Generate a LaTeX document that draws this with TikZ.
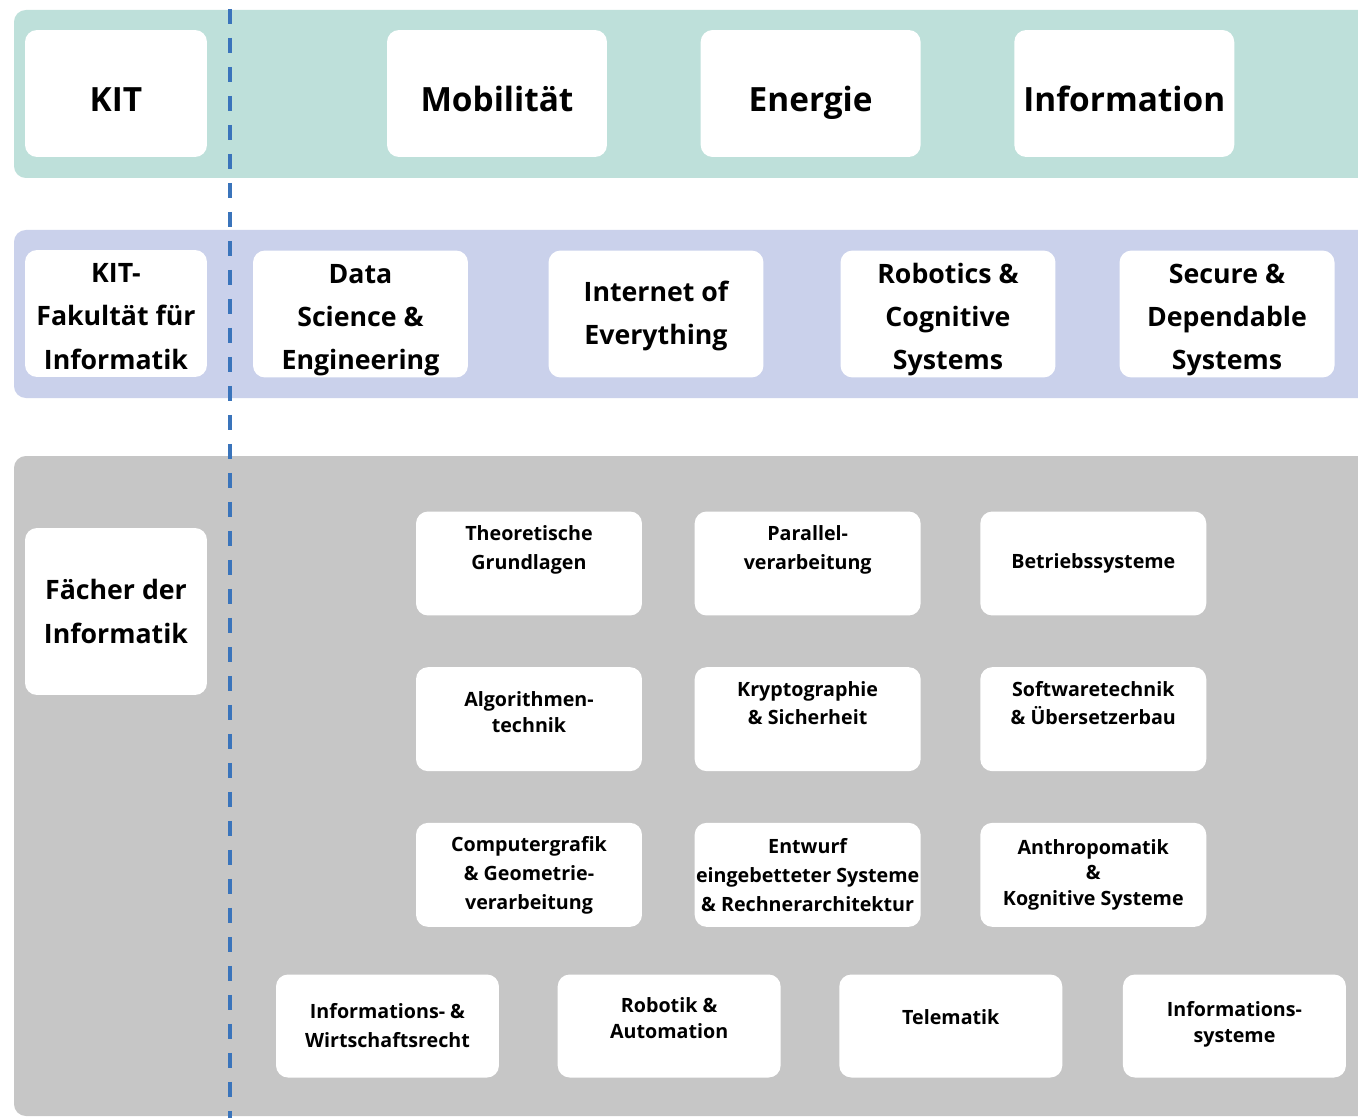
\documentclass[tikz,border=0pt]{standalone}
\usepackage{fontspec}
\setmainfont{Open Sans}
\usetikzlibrary{positioning}
\definecolor{kitgruen}{HTML}{BEE0DA}
\definecolor{kitblau}{HTML}{CAD1EB}
\definecolor{kitgrau}{HTML}{C6C6C6}
\definecolor{strichblau}{HTML}{3A74BB}
% text block, raised inside its box
\newcommand{\hoch}[3][1]{\raisebox{#2}[0pt][0pt]{\renewcommand{\arraystretch}{#1}\begin{tabular}{@{}c@{}}#3\end{tabular}}}
\tikzset{
	%Define style for white boxes
	kasten/.style={
		rectangle,
		rounded corners=6.8pt,
		fill=white,
		inner sep=0pt,
		align=center},
	gross/.style={
		kasten,
		minimum width=4.4cm,
		minimum height=2.54cm,
		text height=21pt, text depth=0pt,
		font=\fontsize{19pt}{23pt}\selectfont\bfseries},
	mittel/.style={
		kasten,
		minimum width=4.3cm,
		minimum height=2.54cm,
		font=\fontsize{15.2pt}{24.5pt}\selectfont\bfseries},
	klein/.style={
		kasten,
		minimum width=4.52cm,
		minimum height=2.08cm,
		font=\fontsize{11.2pt}{16.5pt}\selectfont\bfseries},
	% Define style for the coloured bands
	band/.style={rounded corners=6.8pt, draw=none}
}
\begin{document}
\begin{tikzpicture}[x=0.02cm, y=-0.02cm]
	\clip (0,0) rectangle (1358,1118);
	% bands
	\fill[band, kitgruen] (14,10) rectangle (1390,178);
	\fill[band, kitblau] (14,230) rectangle (1390,398);
	\fill[band, kitgrau] (14,456) rectangle (1390,1116);
	% dashed separator
	\coordinate (oben) at (230,9);
	\coordinate (unten) at (230,1118);
	\draw[strichblau, line width=2.3pt, dash pattern=on 0.3cm off 0.28cm] (oben) -- (unten);
	% top row
	\node[gross, minimum width=3.64cm] (kit) at (116,93.5) {KIT};
	\node[gross] (mobil) at (497,93.5) {Mobilität};
	\node[gross, right=1.86cm of mobil] (energie) {Energie};
	\node[gross, right=1.86cm of energie] (info) {Information};
	% middle row
	\node[mittel, minimum width=3.64cm] (fakultaet) at (116,313.5) {\hoch{-5.8pt}{KIT-\\Fakultät für\\Informatik}};
	\node[mittel] (datasci) at (360.5,314) {\hoch{-5.8pt}{Data\\Science \&\\Engineering}};
	\node[mittel] (iot) at (656,314) {\hoch{-3.8pt}{Internet of\\Everything}};
	\node[mittel] (robcog) at (948,314) {\hoch{-5.8pt}{Robotics \&\\Cognitive\\Systems}};
	\node[mittel] (secure) at (1227,314) {\hoch{-5.8pt}{Secure \&\\Dependable\\Systems}};
	% subjects
	\node[mittel, minimum width=3.64cm, minimum height=3.34cm] (faecher) at (116,611.5) {Fächer der\\Informatik};
	\node[klein] (theo) at (529,563.5) {\hoch{5.2pt}{Theoretische\\Grundlagen}};
	\node[klein, right=1.04cm of theo] (parallel) {\hoch{5.2pt}{Parallel-\\verarbeitung}};
	\node[klein, right=1.18cm of parallel] (betrieb) {Betriebssysteme};
	\node[klein, below=1.02cm of theo] (algo) {\hoch[0.9]{0pt}{Algorithmen-\\technik}};
	\node[klein, below=1.02cm of parallel] (krypto) {\hoch[0.95]{5.2pt}{Kryptographie\\\& Sicherheit}};
	\node[klein, below=1.02cm of betrieb] (softw) {\hoch[0.95]{5.2pt}{Softwaretechnik\\\& Übersetzerbau}};
	\node[klein, below=1.02cm of algo] (grafik) {Computergrafik\\\& Geometrie-\\verarbeitung};
	\node[klein, below=1.02cm of krypto] (entwurf) {Entwurf\\eingebetteter Systeme\\\& Rechnerarchitektur};
	\node[klein, below=1.02cm of softw] (anthropo) {Anthropomatik\\[-2pt]\&\\[-2pt]Kognitive Systeme};
	% bottom row
	\node[klein, minimum width=4.46cm, minimum height=2.06cm] (recht) at (387.5,1026) {Informations- \&\\Wirtschaftsrecht};
	\node[klein, minimum width=4.46cm, minimum height=2.06cm, right=1.16cm of recht] (robauto) {\hoch[0.9]{0.5pt}{Robotik \&\\Automation}};
	\node[klein, minimum width=4.46cm, minimum height=2.06cm, right=1.16cm of robauto] (telematik) {\hoch{1.2pt}{Telematik}};
	\node[klein, minimum width=4.46cm, minimum height=2.06cm, right=1.2cm of telematik] (infosys) {\hoch[0.9]{-1.5pt}{Informations-\\systeme}};
\end{tikzpicture}
\end{document}
